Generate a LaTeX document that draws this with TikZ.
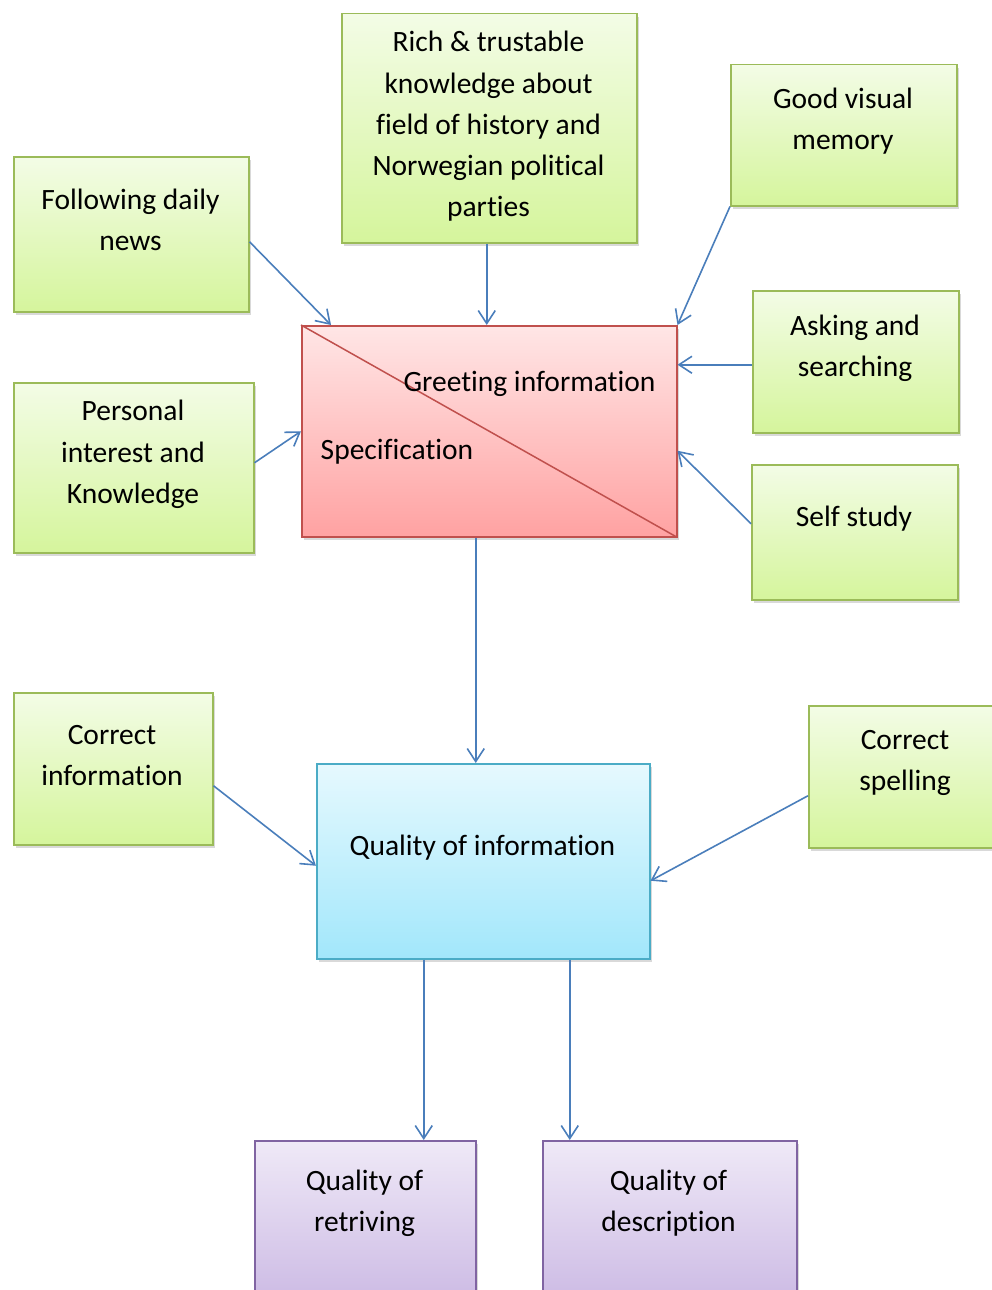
\documentclass[tikz,border=0pt]{standalone}
\usepackage{fontspec}
\setmainfont{Carlito}[Ligatures=NoCommon]
\usetikzlibrary{arrows.meta,shadows}
\definecolor{gT}{HTML}{F3FCE6}
\definecolor{gB}{HTML}{D5F59C}
\definecolor{gD}{HTML}{9BBB59}
\definecolor{rT}{HTML}{FFE6E6}
\definecolor{rB}{HTML}{FFA2A2}
\definecolor{rD}{HTML}{C0504D}
\definecolor{bT}{HTML}{E6F9FE}
\definecolor{bB}{HTML}{A2E7FB}
\definecolor{bD}{HTML}{4BACC6}
\definecolor{pT}{HTML}{EFE9F7}
\definecolor{pB}{HTML}{C6B2E1}
\definecolor{pD}{HTML}{8064A2}
\definecolor{aC}{HTML}{4A7EBB}
\tikzset{
  boxbase/.style={rectangle, line width=1.5pt, inner sep=0pt, anchor=north west,
    drop shadow={shadow xshift=2pt, shadow yshift=-3pt, opacity=0.3}},
  gbox/.style={boxbase, draw=gD, top color=gT, bottom color=gB},
  rbox/.style={boxbase, draw=rD, top color=rT, bottom color=rB},
  bbox/.style={boxbase, draw=bD, top color=bT, bottom color=bB},
  pbox/.style={boxbase, draw=pD, top color=pT, bottom color=pB},
  txt/.style={align=center, inner sep=0pt, font=\fontsize{29.5}{41.3}\selectfont},
  arr/.style={draw=aC, line width=1.6pt, -{Straight Barb[length=13pt,width=17pt,line width=1.6pt]}},
}
\begin{document}
\begin{tikzpicture}[x=1pt,y=-1pt]
\useasboundingbox (0,0) rectangle (992,1290);
\clip (0,0) rectangle (992,1290);
% boxes
\node[gbox, minimum width=235pt, minimum height=155pt] (fdn) at (13,156) {};
\node[gbox, minimum width=295pt, minimum height=229pt] (rich) at (341,13) {};
\node[gbox, minimum width=226pt, minimum height=141pt] (gvm) at (730,64) {};
\node[gbox, minimum width=206pt, minimum height=142pt] (ask) at (752,290) {};
\node[gbox, minimum width=206pt, minimum height=135pt] (self) at (751,464) {};
\node[gbox, minimum width=240pt, minimum height=170pt] (pers) at (13,382) {};
\node[rbox, minimum width=375pt, minimum height=211pt] (red) at (301,325) {};
\node[gbox, minimum width=199pt, minimum height=152pt] (cinfo) at (13,692) {};
\node[gbox, minimum width=215pt, minimum height=142pt] (cspell) at (808,705) {};
\node[bbox, minimum width=333pt, minimum height=195pt] (qinfo) at (316,763) {};
\node[pbox, minimum width=221pt, minimum height=190pt] (retr) at (254,1140) {};
\node[pbox, minimum width=254pt, minimum height=190pt] (desc) at (542,1140) {};
\draw[rD, line width=1.5pt] (red.north west) -- (red.south east);
% texts
\node[txt] (t1) at (130.5,220) {Following daily\\news};
\node[txt] (t2) at (488.5,126.5) {Rich \& trustable\\knowledge about\\field of history and\\Norwegian political\\parties};
\node[txt] (t3) at (843,121) {Good visual\\memory};
\node[txt] (t4) at (855,348) {Asking and\\searching};
\node[txt] (t5) at (854,519) {Self study};
\node[txt] (t6) at (133,454.5) {Personal\\interest and\\Knowledge};
\node[txt] (t7) at (529.5,384) {Greeting information};
\node[txt] (t8) at (397,452) {Specification};
\node[txt] (t9) at (112,755.5) {Correct\\information};
\node[txt] (t10) at (905,763) {Correct\\spelling};
\node[txt] (t11) at (482.5,848) {Quality of information};
\node[txt] (t12) at (364.5,1203) {Quality of\\retriving};
\node[txt] (t13) at (668.5,1203) {Quality of\\description};
% connectors
\draw[arr] ([yshift=-7.5pt]fdn.east) -- ([xshift=30pt]red.north west);
\draw[arr] ([xshift=-2.5pt]rich.south) -- ([xshift=-2.5pt]rich.south |- red.north);
\draw[arr] (gvm.south west) -- (red.north east);
\draw[arr] ([yshift=-3pt]ask.west) -- ([yshift=-3pt]ask.west -| red.east);
\draw[arr] ([yshift=8.5pt]self.west) -- ([yshift=-19.5pt]red.east);
\draw[arr] ([yshift=5pt]pers.east) -- (red.west);
\draw[arr] ([xshift=-13.5pt]red.south) -- ([xshift=-13.5pt]red.south |- qinfo.north);
\draw[arr] ([yshift=-17pt]cinfo.east) -- ([yshift=-4.5pt]qinfo.west);
\draw[arr] ([yshift=-19pt]cspell.west) -- ([yshift=-19.5pt]qinfo.east);
\draw[arr] ([xshift=-59.5pt]qinfo.south) -- ([xshift=-59.5pt]qinfo.south |- retr.north);
\draw[arr] ([xshift=86.5pt]qinfo.south) -- ([xshift=86.5pt]qinfo.south |- desc.north);
\end{tikzpicture}
\end{document}
